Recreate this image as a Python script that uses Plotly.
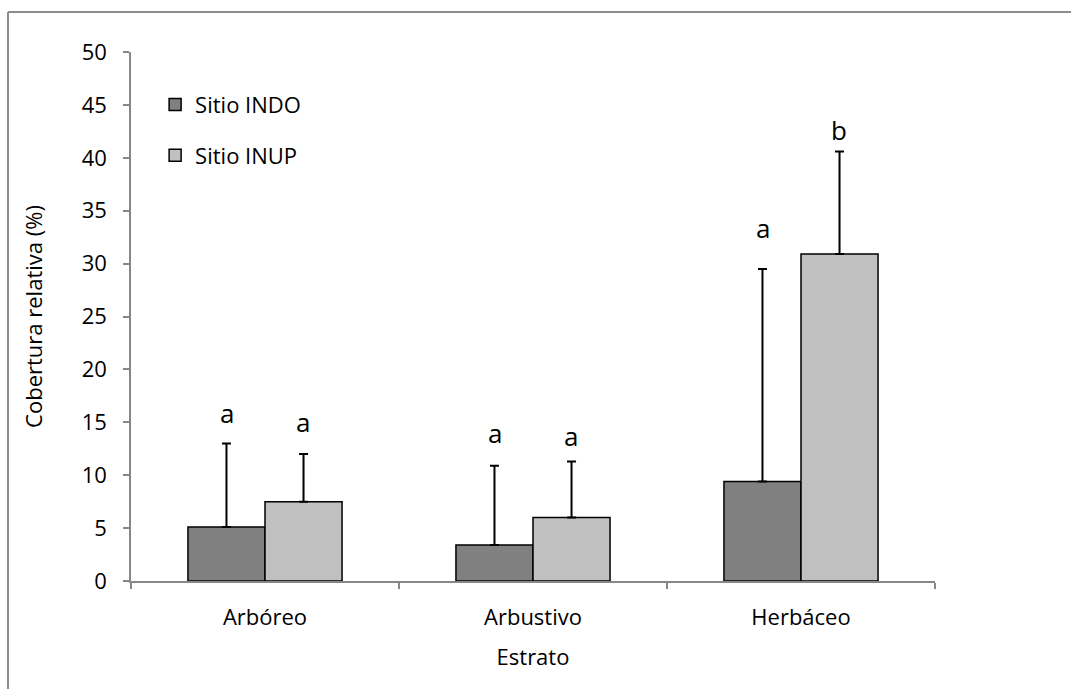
import plotly.graph_objects as go

# Vegetation strata and relative cover per site
estratos = ["Arbóreo", "Arbustivo", "Herbáceo"]
indo_media = [5.1, 3.4, 9.4]
indo_de = [7.9, 7.5, 20.1]
inup_media = [7.5, 6.0, 30.9]
inup_de = [4.5, 5.3, 9.7]

# Significance letters and their heights
letras_indo = ["a", "a", "a"]
letras_inup = ["a", "a", "b"]
y_letras_indo = [15.9, 14.0, 33.4]
y_letras_inup = [15.0, 13.75, 42.6]

y_ticks = [0, 5, 10, 15, 20, 25, 30, 35, 40, 45, 50]

FONT = "Open Sans"
FS = 22
AXIS_GRAY = "#878787"

fig = go.Figure()
fig.add_trace(go.Bar(
    x=estratos, y=indo_media, name="Sitio INDO", legendgroup="indo",
    marker=dict(color="#808080", line=dict(color="black", width=1.5)),
    error_y=dict(type="data", array=indo_de, symmetric=False,
                 arrayminus=[0] * len(indo_de), color="black",
                 thickness=2, width=4.5),
))
fig.add_trace(go.Bar(
    x=estratos, y=inup_media, name="Sitio INUP", legendgroup="inup",
    marker=dict(color="#C0C0C0", line=dict(color="black", width=1.5)),
    error_y=dict(type="data", array=inup_de, symmetric=False,
                 arrayminus=[0] * len(inup_de), color="black",
                 thickness=2, width=4.5),
))

annotations = []
for cat, txt, yv in zip(estratos, letras_indo, y_letras_indo):
    annotations.append(dict(x=cat, y=yv, text=txt, showarrow=False,
                            xshift=-38, yanchor="middle",
                            font=dict(family=FONT, size=26, color="black")))
for cat, txt, yv in zip(estratos, letras_inup, y_letras_inup):
    annotations.append(dict(x=cat, y=yv, text=txt, showarrow=False,
                            xshift=38, yanchor="middle",
                            font=dict(family=FONT, size=26, color="black")))

fig.update_layout(
    width=1071, height=689,
    margin=dict(l=131, r=136, t=52, b=108),
    paper_bgcolor="white", plot_bgcolor="white",
    barmode="group", bargap=0.425, bargroupgap=0,
    font=dict(family=FONT, size=FS, color="black"),
    showlegend=True,
    legend=dict(x=0.03, y=0.94, xanchor="left", yanchor="top",
                bgcolor="rgba(0,0,0,0)", tracegroupgap=19,
                font=dict(family=FONT, size=FS, color="black"),
                itemwidth=30),
    annotations=annotations,
    shapes=[
        # frame lines along top and left of the chart area
        dict(type="line", xref="paper", yref="paper",
             x0=-123 / 804, x1=1.2, y0=1 + 40 / 529, y1=1 + 40 / 529,
             line=dict(color="#8c8c8c", width=2)),
        dict(type="line", xref="paper", yref="paper",
             x0=-123 / 804, x1=-123 / 804, y0=1 + 40 / 529, y1=-0.3,
             line=dict(color="#8c8c8c", width=2)),
    ],
)

fig.update_xaxes(
    type="category", showline=True, linecolor=AXIS_GRAY, linewidth=1.5,
    ticks="outside", tickson="boundaries", ticklen=6, tickcolor=AXIS_GRAY,
    tickwidth=1.5, showgrid=False, zeroline=False, ticklabelstandoff=16,
    tickfont=dict(family=FONT, size=FS, color="black"),
    title=dict(text="Estrato", standoff=19,
               font=dict(family=FONT, size=FS, color="black")),
)
fig.update_yaxes(
    range=[0, 50], tickvals=y_ticks, showline=True, linecolor=AXIS_GRAY,
    linewidth=1.5, ticks="outside", ticklen=6, tickcolor=AXIS_GRAY,
    tickwidth=1.5, showgrid=False, zeroline=False, ticklabelstandoff=12,
    tickfont=dict(family=FONT, size=FS, color="black"),
    title=dict(text="Cobertura relativa (%)", standoff=33,
               font=dict(family=FONT, size=FS, color="black")),
)

fig.write_html("out.html")
